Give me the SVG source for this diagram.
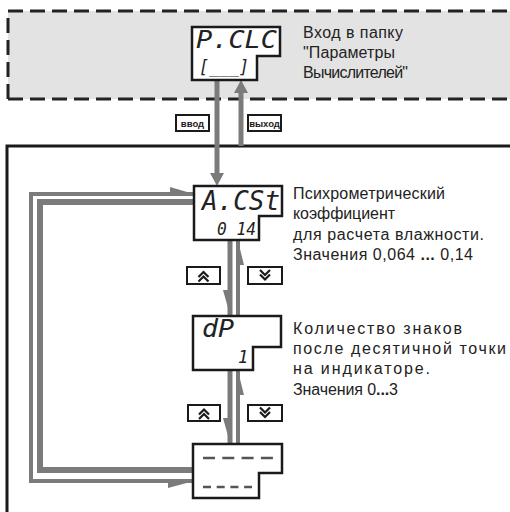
<svg xmlns="http://www.w3.org/2000/svg" width="510" height="512" viewBox="0 0 510 512">
<defs>
<style>
.box{fill:#fff;stroke:#1a1a1a;stroke-width:2.5;stroke-linejoin:miter}
.lbl{font-family:"Liberation Sans",Arial,sans-serif;font-size:16px;fill:#222}
.seg{font-family:"DejaVu Sans Mono",monospace;font-style:italic;fill:#222}
.seg2{font-family:"DejaVu Sans Mono",monospace;font-style:italic;fill:#222;font-size:17px}
.key{fill:#fff;stroke:#1a1a1a;stroke-width:2}
.chev{fill:none;stroke:#1a1a1a;stroke-width:2.2}
.tag{font-family:"Liberation Sans",Arial,sans-serif;font-size:9.5px;font-weight:bold;fill:#1a1a1a}
.fl{fill:none;stroke:#7b7b7b}
.fh{fill:#7b7b7b}
.dash{stroke:#555;stroke-width:2.5}
</style>
</defs>
<rect width="510" height="512" fill="#fff"/>
<g id="folder-region">
<rect x="8" y="11" width="510" height="88" fill="#e3e3e3"/>
<path d="M8,99 V11 H510 M8,99 H510" fill="none" stroke="#222" stroke-width="3" stroke-dasharray="15,7"/>
</g>
<g id="frame">
<path d="M7,514 V146 H512" fill="none" stroke="#1a1a1a" stroke-width="3"/>
</g>
<g id="connectors">
<line class="fl" x1="217" y1="80" x2="217" y2="175" stroke-width="5"/>
<polygon class="fh" points="210,173 224,173 217,186"/>
<line class="fl" x1="241" y1="146" x2="241" y2="91" stroke-width="5"/>
<polygon class="fh" points="234,93 248,93 241,80"/>
<polyline class="fl" points="194,194 31,194 31,481 194,481" stroke-width="4" stroke="#858585"/>
<polygon class="fh" points="170,187 170,193 194,194"/>
<polygon class="fh" points="168,488 168,482 194,481"/>
<polyline class="fl" points="194,202 40,202 40,470 194,470" stroke-width="6" stroke="#707070"/>
<line class="fl" x1="230" y1="240" x2="230" y2="316" stroke-width="5"/>
<polygon class="fh" points="223,290 228,290 230,315"/>
<line class="fl" x1="238" y1="316" x2="238" y2="240" stroke-width="4"/>
<polygon class="fh" points="244,265 239,265 238,241"/>
<line class="fl" x1="230" y1="370" x2="230" y2="444" stroke-width="5"/>
<polygon class="fh" points="223,418 228,418 230,443"/>
<line class="fl" x1="238" y1="444" x2="238" y2="370" stroke-width="4"/>
<polygon class="fh" points="244,395 239,395 238,371"/>
</g>
<g id="tag-vvod">
<rect class="key" x="176" y="115" width="33" height="16"/>
<text class="tag" x="192.5" y="127" text-anchor="middle">ввод</text>
</g>
<g id="tag-vyhod">
<rect class="key" x="248" y="115" width="33" height="16"/>
<text class="tag" x="264.5" y="127" text-anchor="middle">выход</text>
</g>
<g id="node-pclc">
<path class="box" d="M192,27 H280 V56 H257 V80 H192 Z"/>
<text class="seg" x="196" y="48" font-size="25" textLength="81" lengthAdjust="spacingAndGlyphs">P.CLC</text>
<text class="seg2" x="199" y="73" textLength="50" lengthAdjust="spacingAndGlyphs">[___]</text>
<text class="lbl" x="303" y="38" textLength="100">Вход в папку</text>
<text class="lbl" x="303" y="58" textLength="92">"Параметры</text>
<text class="lbl" x="303" y="78" textLength="105">Вычислителей"</text>
</g>
<g id="node-acst">
<path class="box" d="M194,186 H282 V216 H259 V240 H194 Z"/>
<text class="seg" x="202" y="210" font-size="27" textLength="78" lengthAdjust="spacingAndGlyphs">A.CSt</text>
<text class="seg2" x="217" y="235" textLength="39" lengthAdjust="spacingAndGlyphs">0 14</text>
<text class="lbl" x="293" y="199" textLength="152">Психрометрический</text>
<text class="lbl" x="293" y="219" textLength="102">коэффициент</text>
<text class="lbl" x="293" y="240" textLength="191">для расчета влажности.</text>
<text class="lbl" x="293" y="260" textLength="180">Значения 0,064 <tspan font-weight="bold">...</tspan> 0,14</text>
</g>
<g id="key-up-1">
<rect class="key" x="187" y="267" width="33" height="17"/>
<path class="chev" d="M198.5,277 L203.5,272 L208.5,277 M198.5,281.5 L203.5,276.5 L208.5,281.5"/>
</g>
<g id="key-down-1">
<rect class="key" x="248" y="267" width="34" height="17"/>
<path class="chev" d="M260,270 L265,275 L270,270 M260,274.5 L265,279.5 L270,274.5"/>
</g>
<g id="node-dp">
<path class="box" d="M193,316 H281 V347 H253 V370 H193 Z"/>
<text class="seg" x="202" y="337" font-size="25" textLength="32" lengthAdjust="spacingAndGlyphs">dP</text>
<text class="seg2" x="238" y="363">1</text>
<text class="lbl" x="293" y="334" textLength="169">Количество знаков</text>
<text class="lbl" x="293" y="354" textLength="213">после десятичной точки</text>
<text class="lbl" x="293" y="374" textLength="137">на индикаторе.</text>
<text class="lbl" x="293" y="395" textLength="105">Значения 0<tspan font-weight="bold">...</tspan>3</text>
</g>
<g id="key-up-2">
<rect class="key" x="188" y="405" width="32" height="16"/>
<path class="chev" d="M199,414.5 L204,409.5 L209,414.5 M199,419 L204,414 L209,419"/>
</g>
<g id="key-down-2">
<rect class="key" x="248" y="405" width="34" height="16"/>
<path class="chev" d="M260,407.5 L265,412.5 L270,407.5 M260,412 L265,417 L270,412"/>
</g>
<g id="node-end">
<path class="box" d="M193,444 H282 V473 H259 V498 H193 Z"/>
<line class="dash" x1="203" y1="458" x2="273" y2="458" stroke-dasharray="12,7.3"/>
<line class="dash" x1="203" y1="487" x2="252" y2="487" stroke-dasharray="8,5.7"/>
</g>
</svg>
